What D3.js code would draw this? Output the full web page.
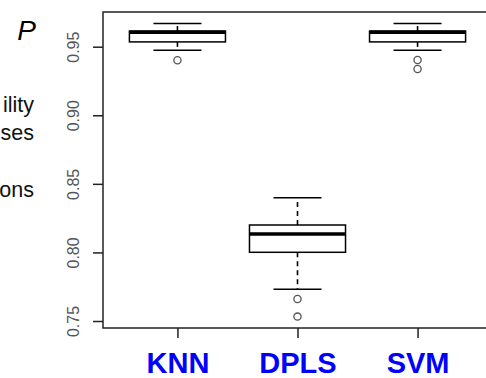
<!DOCTYPE html>
<html>
<head>
<meta charset="utf-8">
<script src="https://cdn.jsdelivr.net/npm/d3@7"></script>
<style>
  body { margin: 0; background: #fff; }
  svg { display: block; }
</style>
</head>
<body>
<script>
//Chart Data
var categories = ['KNN', 'DPLS', 'SVM'];
var whiskerLow = [0.9474, 0.7731, 0.9474];
var q1 = [0.9535, 0.8001, 0.9535];
var medians = [0.9605, 0.8134, 0.9605];
var q3 = [0.9614, 0.8200, 0.9614];
var whiskerHigh = [0.9670, 0.8399, 0.9670];
var outliers = [[0.9401], [0.7660, 0.7532], [0.9403, 0.9337]];
var yTicks = [0.75, 0.80, 0.85, 0.90, 0.95];
var sideText = ['ility', 'ses', 'ons'];

//Define the SVG Height & Width
var svgWidth = 486;
var svgHeight = 378;

//Plot Region
var plot = { left: 103, right: 492, top: 12, bottom: 328 };

var svg = d3.select('body')
    .append('svg')
    .attr('width', svgWidth)
    .attr('height', svgHeight)
    .style('font-family', 'Liberation Sans, Arial, sans-serif');

//Scales
var xScale = d3.scaleLinear()
    .domain([0.38, 3.62])
    .range([plot.left, plot.right]);
var yScale = d3.scaleLinear()
    .domain([0.7449, 0.9753])
    .range([plot.bottom, plot.top]);

//Text from the neighbouring panel
svg.append('text')
    .attr('x', 36)
    .attr('y', 40)
    .attr('text-anchor', 'end')
    .attr('font-size', '28px')
    .attr('font-style', 'italic')
    .attr('fill', '#000')
    .text('P');
svg.selectAll('.side')
    .data(sideText)
    .enter()
    .append('text')
    .attr('class', 'side')
    .attr('x', 34)
    .attr('y', (d, i) => [112, 140, 197][i])
    .attr('text-anchor', 'end')
    .attr('font-size', '21.5px')
    .attr('fill', '#111')
    .text(d => d);

//Plot Box
svg.append('rect')
    .attr('x', plot.left)
    .attr('y', plot.top)
    .attr('width', plot.right - plot.left)
    .attr('height', plot.bottom - plot.top)
    .attr('fill', 'none')
    .attr('stroke', '#222')
    .attr('stroke-width', 1.5);

//Y Axis
var yAxis = d3.axisLeft(yScale)
    .tickValues(yTicks)
    .tickSize(10)
    .tickPadding(0)
    .tickFormat(d3.format('.2f'));
var yAxisGroup = svg.append('g')
    .attr('transform', `translate(${plot.left}, 0)`)
    .call(yAxis);
yAxisGroup.select('.domain').remove();
yAxisGroup.selectAll('line')
    .attr('stroke', '#222')
    .attr('stroke-width', 1.5);
yAxisGroup.selectAll('text')
    .attr('x', 0)
    .attr('y', 0)
    .attr('dy', null)
    .attr('transform', d => `translate(-24, 0) rotate(-90)`)
    .attr('text-anchor', 'middle')
    .attr('font-size', '16px')
    .attr('font-family', 'Liberation Sans, Arial, sans-serif')
    .attr('fill', '#555');

//X Axis
var xAxis = d3.axisBottom(xScale)
    .tickValues([1, 2, 3])
    .tickSize(10)
    .tickPadding(14)
    .tickFormat((d, i) => categories[i]);
var xAxisGroup = svg.append('g')
    .attr('transform', `translate(0, ${plot.bottom})`)
    .call(xAxis);
xAxisGroup.select('.domain').remove();
xAxisGroup.selectAll('line')
    .attr('stroke', '#222')
    .attr('stroke-width', 1.5);
xAxisGroup.selectAll('text')
    .attr('dy', '0.71em')
    .attr('font-size', '29px')
    .attr('font-weight', 'bold')
    .attr('font-family', 'Liberation Sans, Arial, sans-serif')
    .attr('fill', '#0000ff');

//Boxplots
var boxes = svg.selectAll('.box')
    .data(categories)
    .enter()
    .append('g')
    .attr('class', 'box');

//Whiskers (dashed)
boxes.append('line')
    .attr('x1', (d, i) => xScale(i + 1))
    .attr('x2', (d, i) => xScale(i + 1))
    .attr('y1', (d, i) => yScale(q3[i]))
    .attr('y2', (d, i) => yScale(whiskerHigh[i]))
    .attr('stroke', '#000')
    .attr('stroke-width', 1.6)
    .attr('stroke-dasharray', '5,4');
boxes.append('line')
    .attr('x1', (d, i) => xScale(i + 1))
    .attr('x2', (d, i) => xScale(i + 1))
    .attr('y1', (d, i) => yScale(q1[i]))
    .attr('y2', (d, i) => yScale(whiskerLow[i]))
    .attr('stroke', '#000')
    .attr('stroke-width', 1.6)
    .attr('stroke-dasharray', '5,4');

//Whisker Caps
boxes.append('line')
    .attr('x1', (d, i) => xScale(i + 0.8))
    .attr('x2', (d, i) => xScale(i + 1.2))
    .attr('y1', (d, i) => yScale(whiskerHigh[i]))
    .attr('y2', (d, i) => yScale(whiskerHigh[i]))
    .attr('stroke', '#000')
    .attr('stroke-width', 1.5);
boxes.append('line')
    .attr('x1', (d, i) => xScale(i + 0.8))
    .attr('x2', (d, i) => xScale(i + 1.2))
    .attr('y1', (d, i) => yScale(whiskerLow[i]))
    .attr('y2', (d, i) => yScale(whiskerLow[i]))
    .attr('stroke', '#000')
    .attr('stroke-width', 1.5);

//Box
boxes.append('rect')
    .attr('x', (d, i) => xScale(i + 0.6))
    .attr('width', xScale(1.4) - xScale(0.6))
    .attr('y', (d, i) => yScale(q3[i]))
    .attr('height', (d, i) => yScale(q1[i]) - yScale(q3[i]))
    .attr('fill', '#fff')
    .attr('stroke', '#000')
    .attr('stroke-width', 1.5);

//Median
boxes.append('line')
    .attr('x1', (d, i) => xScale(i + 0.6))
    .attr('x2', (d, i) => xScale(i + 1.4))
    .attr('y1', (d, i) => yScale(medians[i]))
    .attr('y2', (d, i) => yScale(medians[i]))
    .attr('stroke', '#000')
    .attr('stroke-width', 3.5);

//Outliers
boxes.selectAll('circle')
    .data((d, i) => outliers[i].map(v => ({ pos: i + 1, value: v })))
    .enter()
    .append('circle')
    .attr('cx', d => xScale(d.pos))
    .attr('cy', d => yScale(d.value))
    .attr('r', 3.6)
    .attr('fill', 'none')
    .attr('stroke', '#555')
    .attr('stroke-width', 1.3);
</script>
</body>
</html>
